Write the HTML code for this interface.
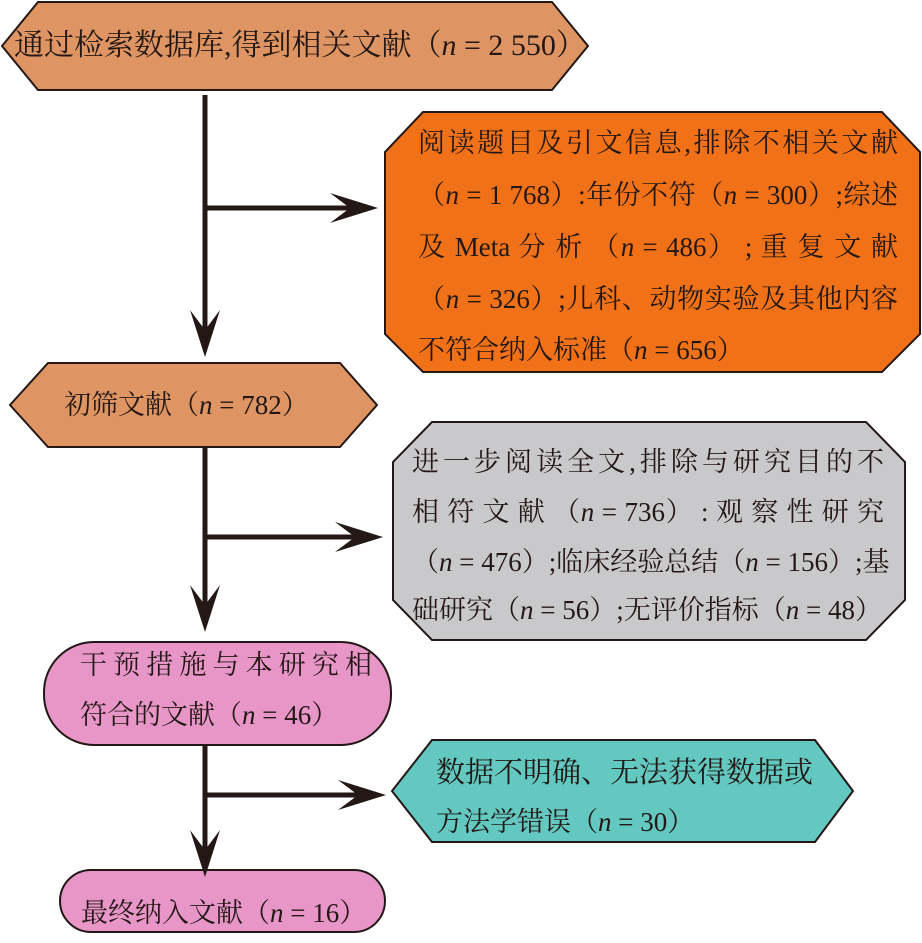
<!DOCTYPE html>
<html><head><meta charset="utf-8">
<style>
body{margin:0;width:922px;height:943px;background:#fff;position:relative;overflow:hidden;font-family:"Liberation Serif","Noto Serif CJK SC",serif;color:#231815}
svg{position:absolute;left:0;top:0}
.t{position:absolute;font-size:27px;line-height:30px;white-space:nowrap}
.j{text-align:justify;text-align-last:justify}
i{font-style:italic}
</style></head><body>
<svg width="922" height="943">
<g stroke="#231815" stroke-width="2">
<polygon points="2,46 38,2 552,2 588,46 552,90 38,90" fill="#de9563"/>
<polygon points="423,112 882,112 920,152 920,334 882,372 423,372 385,334 385,152" fill="#f07118"/>
<polygon points="10,405 48,363 340,363 377,405 340,447 48,447" fill="#de9563"/>
<polygon points="432,422 866,422 905,462 905,600 866,640 432,640 393,600 393,462" fill="#c9c9cb"/>
<rect x="44" y="642" width="347" height="103" rx="50" fill="#e896c8"/>
<polygon points="392,791 432,740 815,740 853,791 815,842 432,842" fill="#62c8c0"/>
<rect x="60" y="870" width="325" height="62" rx="31" fill="#e896c8"/>
</g>
<g stroke="#231815" stroke-width="5" fill="none">
<line x1="205" y1="95" x2="205" y2="340"/>
<line x1="205" y1="208" x2="360" y2="208"/>
<line x1="205" y1="447" x2="205" y2="615"/>
<line x1="205" y1="537" x2="365" y2="537"/>
<line x1="205" y1="745" x2="205" y2="860"/>
<line x1="205" y1="795" x2="368" y2="795"/>
</g>
<g fill="#231815">
<polygon points="205,357 190,310 205,330 220,310"/>
<polygon points="378,208 330,193 350,208 330,223"/>
<polygon points="205,632 190,585 205,605 220,585"/>
<polygon points="383,537 335,522 355,537 335,552"/>
<polygon points="205,877 190,830 205,850 220,830"/>
<polygon points="386,795 338,780 358,795 338,810"/>
</g>
</svg>
<div class="t" style="left:14px;top:31px;font-size:30px">通过检索数据库,得到相关文献（<i>n</i> = 2 550）</div>
<div class="t j" style="left:418px;top:128px;width:480px">阅读题目及引文信息,排除不相关文献</div>
<div class="t j" style="left:418px;top:180px;width:480px">（<i>n</i> = 1 768）:年份不符（<i>n</i> = 300）;综述</div>
<div class="t j" style="left:418px;top:232px;width:480px">及 Meta 分 析 （<i>n</i> = 486） ; 重 复 文 献</div>
<div class="t j" style="left:418px;top:284px;width:480px">（<i>n</i> = 326）;儿科、动物实验及其他内容</div>
<div class="t" style="left:418px;top:335px">不符合纳入标准（<i>n</i> = 656）</div>
<div class="t" style="left:64px;top:390px">初筛文献（<i>n</i> = 782）</div>
<div class="t j" style="left:412px;top:447px;width:472px">进一步阅读全文,排除与研究目的不</div>
<div class="t j" style="left:412px;top:497px;width:472px">相 符 文 献 （<i>n</i> = 736） : 观 察 性 研 究</div>
<div class="t j" style="left:412px;top:547px;width:472px">（<i>n</i> = 476）;临床经验总结（<i>n</i> = 156）;基</div>
<div class="t" style="left:412px;top:595px">础研究（<i>n</i> = 56）;无评价指标（<i>n</i> = 48）</div>
<div class="t j" style="left:80px;top:650px;width:292px">干预措施与本研究相</div>
<div class="t" style="left:80px;top:700px">符合的文献（<i>n</i> = 46）</div>
<div class="t" style="left:436px;top:758px;font-size:29px">数据不明确、无法获得数据或</div>
<div class="t" style="left:436px;top:807px">方法学错误（<i>n</i> = 30）</div>
<div class="t" style="left:81px;top:898px">最终纳入文献（<i>n</i> = 16）</div>
</body></html>
